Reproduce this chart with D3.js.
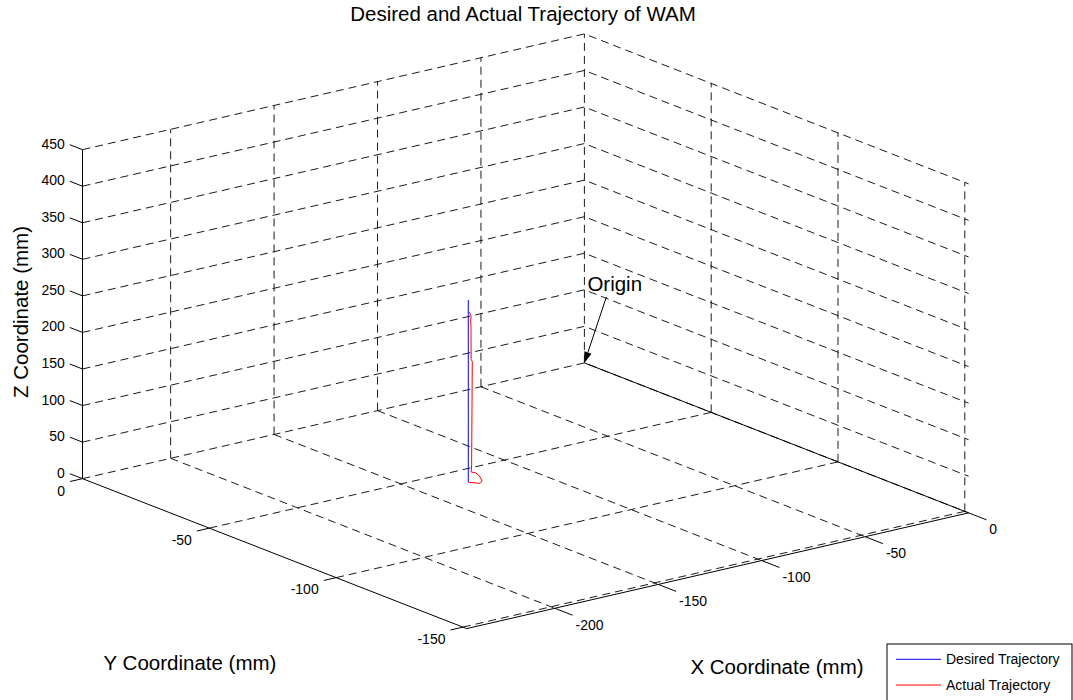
<!DOCTYPE html>
<html>
<head>
<meta charset="utf-8">
<script src="https://cdn.jsdelivr.net/npm/d3@7"></script>
<style>
  body { margin: 0; background: #fff; }
  text { font-family: "Liberation Sans", Arial, sans-serif; fill: #000; }
</style>
</head>
<body>
<div id="chart"></div>
<script>
// axis limits and ticks (mm)
const xLim = [-242.6, 0];
const yLim = [-151.5, 0];
const zLim = [0, 450];
const xTicks = [-200, -150, -100, -50, 0];
const yTicks = [-150, -100, -50, 0];
const zTicks = [0, 50, 100, 150, 200, 250, 300, 350, 400, 450];

// desired trajectory
const desiredX = [-128.2, -128.2];
const desiredY = [-58.8, -58.8];
const desiredZ = [0, 249.4];

// actual trajectory
const actualX = [-128.2, -125.4, -123.0, -124.9, -126.0, -127.3, -127.2, -127.0, -127.3, -127.4, -127.5, -127.3, -127.7, -128.0];
const actualY = [-58.8, -61.2, -60.0, -60.4, -59.9, -59.2, -59.3, -59.4, -59.2, -59.2, -59.15, -59.2, -59.05, -58.9];
const actualZ = [0, 0, 0, 9, 13, 14, 24, 165, 168, 213, 222, 226.5, 231, 233];

const seriesNames = ["Desired Trajectory", "Actual Trajectory"];
const seriesColors = ["#0000ff", "#ff0000"];

const titleText = "Desired and Actual Trajectory of WAM";
const originLabel = "Origin";

// svg size
const svgWidth = 1073;
const svgHeight = 700;

// screen position of (0,0,0) and of the far end of each axis (orthographic view)
const origin = [584.4, 362.9];
const xEnd = [82.5, 478.65];   // x = xLim[0]
const yEnd = [968.6, 512.85];  // y = yLim[0]
const zEnd = [584.4, 33.9];    // z = zLim[1]

const fx = d3.scaleLinear().domain([0, xLim[0]]).range([0, 1]);
const fy = d3.scaleLinear().domain([0, yLim[0]]).range([0, 1]);
const fz = d3.scaleLinear().domain([0, zLim[1]]).range([0, 1]);

function proj(x, y, z) {
  const a = fx(x), b = fy(y), c = fz(z);
  return [
    origin[0] + a * (xEnd[0] - origin[0]) + b * (yEnd[0] - origin[0]) + c * (zEnd[0] - origin[0]),
    origin[1] + a * (xEnd[1] - origin[1]) + b * (yEnd[1] - origin[1]) + c * (zEnd[1] - origin[1])
  ];
}

const line = d3.line();
const path3 = pts => line(pts.map(p => proj(p[0], p[1], p[2])));

let svg = d3.select("#chart")
  .append("svg")
  .attr("width", svgWidth)
  .attr("height", svgHeight)
  .style("background-color", "white");

const xMin = xLim[0], yMin = yLim[0], zMax = zLim[1];

// dashed grid
const grid = svg.append("g")
  .attr("fill", "none")
  .attr("stroke", "#000")
  .attr("stroke-width", 0.9)
  .attr("stroke-dasharray", "8,5");

let gridLines = [];
// verticals on the back wall (y = 0)
xTicks.forEach(x => gridLines.push([[x, 0, 0], [x, 0, zMax]]));
// verticals on the side wall (x = 0)
yTicks.filter(y => y !== 0).forEach(y => gridLines.push([[0, y, 0], [0, y, zMax]]));
// horizontal lines on both walls
zTicks.forEach(z => gridLines.push([[xMin, 0, z], [0, 0, z], [0, yMin, z]]));
// floor
xTicks.filter(x => x !== 0).forEach(x => gridLines.push([[x, 0, 0], [x, yMin, 0]]));
yTicks.filter(y => y !== 0).forEach(y => gridLines.push([[xMin, y, 0], [0, y, 0]]));

grid.selectAll("path")
  .data(gridLines)
  .enter().append("path")
  .attr("d", d => path3(d));

// solid axis lines
const axes = svg.append("g")
  .attr("fill", "none")
  .attr("stroke", "#000")
  .attr("stroke-width", 1);

const axisLines = [
  [[xMin, 0, 0], [xMin, 0, zMax]],
  [[xMin, 0, 0], [xMin, yMin, 0]],
  [[xMin, yMin, 0], [0, yMin, 0]],
  [[0, 0, 0], [0, yMin, 0]]
];
axes.selectAll("path.axis")
  .data(axisLines)
  .enter().append("path")
  .attr("class", "axis")
  .attr("d", d => path3(d));

// tick marks
const zTickLines = zTicks.map(z => [[xMin, 0, z], [xMin, 5, z]]);
const yTickLines = yTicks.map(y => [[xMin, y, 0], [xMin - 6, y, 0]]);
const xTickLines = xTicks.map(x => [[x, yMin, 0], [x, yMin - 7, 0]]);
axes.selectAll("path.tick")
  .data(zTickLines.concat(yTickLines, xTickLines))
  .enter().append("path")
  .attr("class", "tick")
  .attr("d", d => path3(d));

// tick labels
const labels = svg.append("g").style("font-size", "14px");

labels.selectAll("text.zl")
  .data(zTicks)
  .enter().append("text")
  .attr("class", "zl")
  .attr("text-anchor", "end")
  .attr("dominant-baseline", "central")
  .attr("x", d => proj(xMin, 5, d)[0] - 5)
  .attr("y", d => proj(xMin, 5, d)[1] - 1)
  .text(d => d);

labels.selectAll("text.yl")
  .data(yTicks)
  .enter().append("text")
  .attr("class", "yl")
  .attr("text-anchor", "end")
  .attr("dominant-baseline", "central")
  .attr("x", d => proj(xMin - 6, d, 0)[0] - 5)
  .attr("y", d => proj(xMin - 6, d, 0)[1] + 9)
  .text(d => d);

labels.selectAll("text.xl")
  .data(xTicks)
  .enter().append("text")
  .attr("class", "xl")
  .attr("text-anchor", "start")
  .attr("dominant-baseline", "central")
  .attr("x", d => proj(d, yMin - 7, 0)[0] + 3)
  .attr("y", d => proj(d, yMin - 7, 0)[1] + 9.5)
  .text(d => d);

// trajectories
const series = [
  d3.zip(desiredX, desiredY, desiredZ),
  d3.zip(actualX, actualY, actualZ)
];
svg.append("g")
  .selectAll("path")
  .data(series)
  .enter().append("path")
  .attr("fill", "none")
  .attr("stroke", (d, i) => seriesColors[i])
  .attr("stroke-width", 1)
  .attr("d", d => path3(d));

// title and axis labels
svg.append("text")
  .attr("x", 523)
  .attr("y", 21)
  .attr("text-anchor", "middle")
  .style("font-size", "20.5px")
  .text(titleText);

svg.append("text")
  .attr("x", 190)
  .attr("y", 662)
  .attr("text-anchor", "middle")
  .attr("dominant-baseline", "central")
  .style("font-size", "20.5px")
  .text("Y Coordinate (mm)");

svg.append("text")
  .attr("x", 777)
  .attr("y", 666)
  .attr("text-anchor", "middle")
  .attr("dominant-baseline", "central")
  .style("font-size", "20.5px")
  .text("X Coordinate (mm)");

svg.append("text")
  .attr("transform", "translate(20,312) rotate(-90)")
  .attr("text-anchor", "middle")
  .attr("dominant-baseline", "central")
  .style("font-size", "20.5px")
  .text("Z Coordinate (mm)");

// "Origin" text arrow
const tip = proj(0, 0, 0);
const tail = [tip[0] + 22, tip[1] - 66];
const ang = Math.atan2(tip[1] - tail[1], tip[0] - tail[0]);
const headLen = 11, headHalf = 3.8;
const base = [tip[0] - headLen * Math.cos(ang), tip[1] - headLen * Math.sin(ang)];
svg.append("line")
  .attr("x1", tail[0]).attr("y1", tail[1])
  .attr("x2", base[0]).attr("y2", base[1])
  .attr("stroke", "#000").attr("stroke-width", 1);
svg.append("path")
  .attr("d", line([
    tip,
    [base[0] - headHalf * Math.sin(ang), base[1] + headHalf * Math.cos(ang)],
    [base[0] + headHalf * Math.sin(ang), base[1] - headHalf * Math.cos(ang)]
  ]) + "Z")
  .attr("fill", "#000");
svg.append("text")
  .attr("x", tip[0] + 3)
  .attr("y", tail[1] - 6)
  .attr("text-anchor", "start")
  .style("font-size", "20.5px")
  .text(originLabel);

// legend
const legend = svg.append("g").attr("transform", "translate(887,644)");
legend.append("rect")
  .attr("width", 185)
  .attr("height", 70)
  .attr("fill", "white")
  .attr("stroke", "#000")
  .attr("stroke-width", 1);
const entries = legend.selectAll("g.entry")
  .data(seriesNames)
  .enter().append("g")
  .attr("class", "entry")
  .attr("transform", (d, i) => "translate(0," + (15.3 + i * 25.7) + ")");
entries.append("line")
  .attr("x1", 9).attr("x2", 54)
  .attr("stroke", (d, i) => seriesColors[i])
  .attr("stroke-width", 1);
entries.append("text")
  .attr("x", 59)
  .attr("dominant-baseline", "central")
  .style("font-size", "14px")
  .text(d => d);
</script>
</body>
</html>
